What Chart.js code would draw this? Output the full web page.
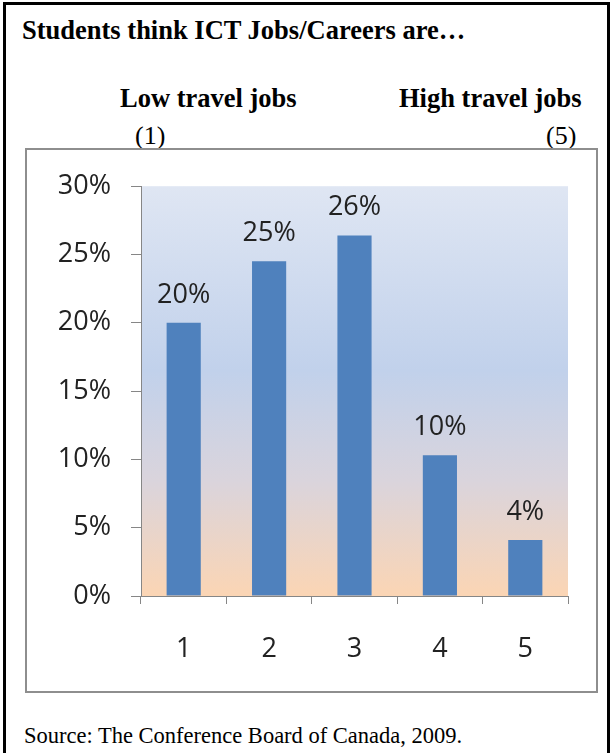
<!DOCTYPE html>
<html>
<head>
<meta charset="utf-8">
<script src="https://cdn.jsdelivr.net/npm/chart.js@4/dist/chart.umd.min.js"></script>
<style>
  html, body { margin: 0; padding: 0; background: #fff; }
  body { width: 613px; height: 753px; position: relative; overflow: hidden; }
  .frame { position: absolute; left: 3px; top: 2px; width: 601px; height: 800px;
           border-left: 3px solid #000; border-top: 3px solid #000; border-right: 3px solid #000; }
  .t { position: absolute; font-family: "Liberation Serif", "Times New Roman", serif; color: #000;
       white-space: nowrap; line-height: 1; }
  .b { font-weight: bold; }
  .box { position: absolute; left: 25px; top: 148px; width: 569px; height: 541px;
         border: 2px solid #8e8e8e; background: #fff; }
  canvas { display: block; }
</style>
</head>
<body>
<div class="frame"></div>
<div class="t b" style="left:22px; top:17px; font-size:26.5px;">Students think ICT Jobs/Careers are…</div>
<div class="t b" style="left:120px; top:85px; font-size:26.5px;">Low travel jobs</div>
<div class="t b" style="left:399px; top:85px; font-size:26.5px;">High travel jobs</div>
<div class="t" style="left:135px; top:123px; font-size:26px;">(1)</div>
<div class="t" style="left:546px; top:123px; font-size:26px;">(5)</div>
<div class="box"><canvas id="c" width="569" height="541"></canvas></div>
<div class="t" style="left:24px; top:725px; font-size:22.5px;">Source: The Conference Board of Canada, 2009.</div>

<script>
// Rating scale from low travel (1) to high travel (5)
const categories = ['1', '2', '3', '4', '5'];
// Share of students choosing each rating, in percent
const shares = [20, 24.5, 26.4, 10.3, 4.1];
// Value axis ticks, in percent
const yTickValues = [0, 5, 10, 15, 20, 25, 30];

const axisGrey = '#868686';
const labelFont = { family: '"Open Sans", "DejaVu Sans", sans-serif', size: 27 };

// Soft blue-to-peach fill behind the bars
const plotBackground = {
  id: 'plotBackground',
  beforeDraw(chart) {
    const { ctx, chartArea: a } = chart;
    const g = ctx.createLinearGradient(0, a.top, 0, a.bottom);
    g.addColorStop(0, '#dfe6f3');
    g.addColorStop(0.45, '#c1d1eb');
    g.addColorStop(0.72, '#dad4dc');
    g.addColorStop(1, '#fbd5b4');
    ctx.save();
    ctx.fillStyle = g;
    ctx.fillRect(a.left, a.top, a.right - a.left, a.bottom - a.top);
    ctx.restore();
  }
};

// Percentage printed above each bar
const valueLabels = {
  id: 'valueLabels',
  afterDatasetsDraw(chart) {
    const { ctx } = chart;
    const meta = chart.getDatasetMeta(0);
    ctx.save();
    ctx.font = labelFont.size + 'px ' + labelFont.family;
    ctx.fillStyle = '#222';
    ctx.textAlign = 'center';
    ctx.textBaseline = 'alphabetic';
    meta.data.forEach((bar, i) => {
      const v = chart.data.datasets[0].data[i];
      ctx.fillText(Math.round(v) + '%', bar.x, bar.y - 20);
    });
    ctx.restore();
  }
};

new Chart(document.getElementById('c'), {
  type: 'bar',
  data: {
    labels: categories,
    datasets: [{
      data: shares,
      backgroundColor: '#4f81bd',
      borderWidth: 0,
      barPercentage: 0.8,
      categoryPercentage: 0.5
    }]
  },
  options: {
    responsive: false,
    animation: false,
    layout: { padding: { top: 34, right: 28, left: 0, bottom: 0 } },
    plugins: { legend: { display: false }, tooltip: { enabled: false } },
    scales: {
      y: {
        min: 0, max: 30,
        afterFit(scale) { scale.width = 114; },
        afterBuildTicks(scale) { scale.ticks = yTickValues.map(v => ({ value: v })); },
        ticks: {
          callback: v => v + '%',
          font: labelFont, color: '#222', padding: 20
        },
        grid: { drawOnChartArea: false, drawTicks: true, tickLength: 10, tickColor: axisGrey },
        border: { display: true, color: axisGrey, width: 1 }
      },
      x: {
        afterFit(scale) { scale.height = 95; },
        ticks: { font: labelFont, color: '#222', padding: 29 },
        grid: { offset: true, drawOnChartArea: false, drawTicks: true, tickLength: 8, tickColor: axisGrey },
        border: { display: true, color: axisGrey, width: 1 }
      }
    }
  },
  plugins: [plotBackground, valueLabels]
});
</script>
</body>
</html>
